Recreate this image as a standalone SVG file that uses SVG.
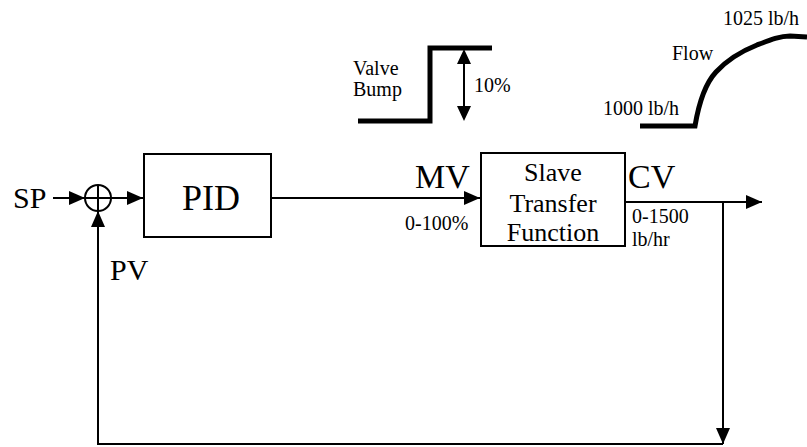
<svg xmlns="http://www.w3.org/2000/svg" width="807" height="447" viewBox="0 0 807 447" font-family="'Liberation Serif', 'Times New Roman', 'DejaVu Serif', serif">
<style>
text{font-family:"Liberation Serif","Times New Roman","DejaVu Serif",serif;fill:#000}
.ln{fill:none;stroke:#000;stroke-width:2}
.box{fill:#fff;stroke:#000;stroke-width:2}
.thick{fill:none;stroke:#000;stroke-width:5}
</style>
<defs>
<marker id="ah" viewBox="0 0 16 14" refX="16" refY="7" markerWidth="16" markerHeight="14" markerUnits="userSpaceOnUse" orient="auto">
<path d="M0,0 L16,7 L0,14 z" fill="#000"/>
</marker>
</defs>
<rect width="807" height="447" fill="#fff"/>
<g id="connectors">
<path class="ln" d="M53,198 H85" marker-end="url(#ah)"/>
<path class="ln" d="M111,198 H143" marker-end="url(#ah)"/>
<path class="ln" d="M271,198 H480" marker-end="url(#ah)"/>
<path class="ln" d="M625,202 H762" marker-end="url(#ah)"/>
<path class="ln" d="M723,202 V444" marker-end="url(#ah)"/>
<path class="ln" d="M723,444 H98 V211" marker-end="url(#ah)"/>
</g>
<g id="sum">
<circle cx="98" cy="198" r="13" fill="#fff" stroke="#000" stroke-width="2"/>
<path class="ln" d="M85,198 H111 M98,185 V211"/>
</g>
<g id="pid">
<rect class="box" x="144" y="154" width="127" height="83"/>
<text x="211" y="210" text-anchor="middle" font-size="36">PID</text>
</g>
<g id="slave">
<rect class="box" x="481" y="153" width="144" height="93"/>
<text x="553" y="181" text-anchor="middle" font-size="26">Slave</text>
<text x="553" y="212" text-anchor="middle" font-size="26">Transfer</text>
<text x="553" y="241" text-anchor="middle" font-size="26">Function</text>
</g>
<g id="labels">
<text x="13" y="208" font-size="30">SP</text>
<text x="110" y="280" font-size="30">PV</text>
<text x="415" y="188" font-size="34">MV</text>
<text x="628" y="188" font-size="34">CV</text>
<text x="405" y="230" font-size="20">0-100%</text>
<text x="632" y="223" font-size="20">0-1500</text>
<text x="632" y="246" font-size="20">lb/hr</text>
</g>
<g id="valve-bump">
<path class="thick" d="M358,121 H430 V48 H492"/>
<path class="ln" d="M464,62 V107"/>
<path d="M457,64 L464,49 L471,64 z M457,106 L464,121 L471,106 z" fill="#000"/>
<text x="353" y="75" font-size="20">Valve</text>
<text x="353" y="96" font-size="20">Bump</text>
<text x="474" y="92" font-size="20">10%</text>
</g>
<g id="flow">
<path class="thick" d="M640,126 H695 C698,108 703,86 716,72 C727,60 742,51 757,45 C770,40 780,36 790,36 L807,37"/>
<text x="672" y="60" font-size="20">Flow</text>
<text x="723" y="25" font-size="20">1025 lb/h</text>
<text x="603" y="115" font-size="20">1000 lb/h</text>
</g>
</svg>
